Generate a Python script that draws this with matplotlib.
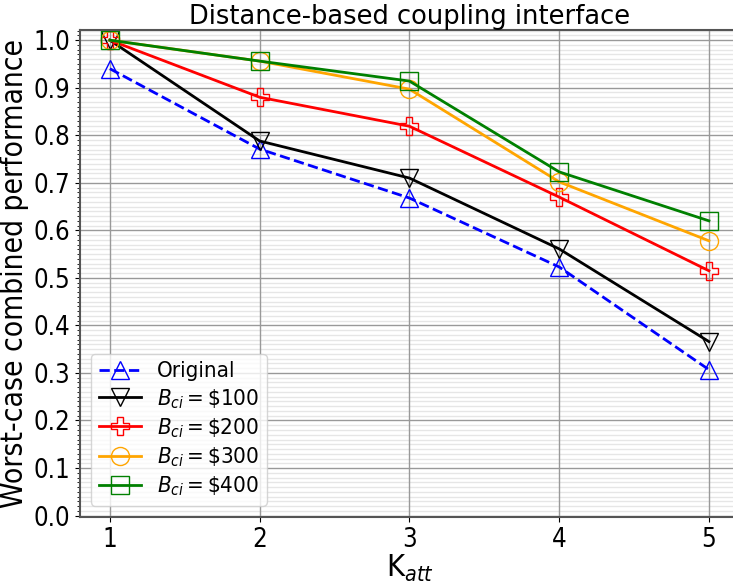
import matplotlib
matplotlib.use("Agg")
import matplotlib.pyplot as plt
from matplotlib.ticker import MultipleLocator

plt.rcParams["font.family"] = ["DejaVu Sans"]
plt.rcParams["font.stretch"] = "condensed"

k_att = [1, 2, 3, 4, 5]
original = [0.940, 0.771, 0.668, 0.523, 0.307]
b100 = [1.000, 0.788, 0.710, 0.561, 0.366]
b200 = [1.000, 0.880, 0.819, 0.670, 0.515]
b300 = [1.000, 0.956, 0.897, 0.702, 0.578]
b400 = [1.000, 0.956, 0.914, 0.723, 0.620]
labels = ["Original", r"$B_{ci} = \$100$", r"$B_{ci} = \$200$",
          r"$B_{ci} = \$300$", r"$B_{ci} = \$400$"]


def build(custom_math):
    if custom_math:
        plt.rcParams["mathtext.fontset"] = "custom"
        plt.rcParams["mathtext.rm"] = "DejaVu Sans:stretch=condensed"
        plt.rcParams["mathtext.it"] = "DejaVu Sans:style=italic:stretch=condensed"
        plt.rcParams["mathtext.bf"] = "DejaVu Sans:weight=bold:stretch=condensed"
    else:
        plt.rcParams["mathtext.fontset"] = "dejavusans"
    fig = plt.figure(figsize=(7.33, 5.83), dpi=100)
    ax = fig.add_axes([0.109, 0.1132, 0.899, 0.835])

    styles = [
        (original, "blue", "^", "--"),
        (b100, "black", "v", "-"),
        (b200, "red", "P", "-"),
        (b300, "orange", "o", "-"),
        (b400, "green", "s", "-"),
    ]
    for (vals, c, m, ls), lab in zip(styles, labels):
        ax.plot(k_att, vals, color=c, marker=m, linestyle=ls, linewidth=2,
                markersize=13, markerfacecolor="none", markeredgecolor=c,
                label=lab)

    ax.set_xlim(0.8, 5.2)
    ax.set_ylim(-0.003, 1.021)
    ax.set_xticks(k_att)
    ax.yaxis.set_major_locator(MultipleLocator(0.1))
    ax.yaxis.set_minor_locator(MultipleLocator(0.01))
    ax.grid(which="major", color="#999999", linewidth=1)
    ax.grid(which="minor", axis="y", color="#e6e6e6", linewidth=1)
    ax.tick_params(axis="both", which="major", labelsize=18.5)
    ax.set_axisbelow(True)
    ax.xaxis.set_zorder(0.6)
    for s in ax.spines.values():
        s.set_color("#555555")
        s.set_linewidth(1.5)

    ax.set_title("Distance-based coupling interface", fontsize=18.5, pad=4,
                 fontstretch="normal")
    ax.set_ylabel("Worst-case combined performance", fontsize=21.5, labelpad=3)
    ax.set_xlabel(r"K$_{att}$", fontsize=22, labelpad=0)
    ax.legend(loc="lower left", fontsize=16, handlelength=1.9, borderpad=0.35,
              labelspacing=0.25, handletextpad=0.7)
    fig.canvas.draw()
    return fig


try:
    fig = build(True)
except Exception:
    plt.close("all")
    fig = build(False)

fig.savefig("out.png", dpi=100)
